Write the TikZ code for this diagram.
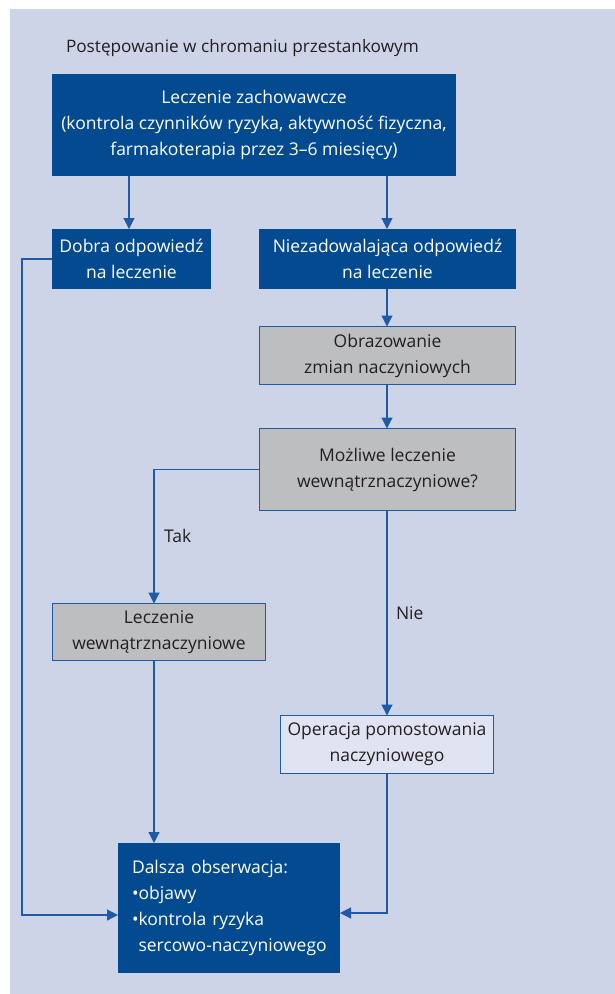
\documentclass[tikz,border=0pt]{standalone}
\usepackage{fontspec}
\setmainfont{Open Sans}
\usetikzlibrary{arrows.meta,positioning}
\definecolor{panel}{HTML}{CED4E8}
\definecolor{navy}{HTML}{034A91}
\definecolor{greybox}{HTML}{BDBEC0}
\definecolor{palebox}{HTML}{E0E3F1}
\definecolor{wire}{HTML}{1F5AA6}
\definecolor{ink}{HTML}{231F20}
\tikzset{
  every node/.style={inner sep=0pt, outer sep=0pt},
  boxfont/.style={font=\fontsize{17.5}{26}\selectfont},
  navybox/.style={rectangle, fill=navy, text=white, align=center, boxfont},
  greyb/.style={rectangle, fill=greybox, draw=wire, line width=1.2pt, text=ink,
    align=center, boxfont},
  paleb/.style={rectangle, fill=palebox, draw=wire, line width=1.2pt, text=ink,
    align=center, boxfont},
  flow/.style={draw=wire, line width=1.2pt, -{Triangle[length=11pt,width=11pt]}},
  lbl/.style={text=ink, font=\fontsize{17.5}{20}\selectfont},
}
\begin{document}
\begin{tikzpicture}[x=1pt,y=-1pt]
  \useasboundingbox (0,0) rectangle (615,994);
  \fill[panel] (10,9) rectangle (615,994);

  \node[text=ink, font=\fontsize{17.2}{20}\selectfont, anchor=base west] (title)
    at (66,52) {Postępowanie w chromaniu przestankowym};

  \node[navybox, minimum width=404pt, minimum height=102pt] (top) at (254,125)
    {Leczenie zachowawcze\\(kontrola czynników ryzyka, aktywność fizyczna,\\farmakoterapia przez 3–6 miesięcy)};
  \node[navybox, minimum width=159pt, minimum height=60pt] (good) at (131.5,259)
    {Dobra odpowiedź\\na leczenie};
  \node[navybox, minimum width=257pt, minimum height=60pt] (poor) at (387.5,259)
    {Niezadowalająca odpowiedź\\na leczenie};
  \node[greyb, minimum width=256pt, minimum height=58pt] (img) at (387.5,355.5)
    {Obrazowanie\\zmian naczyniowych};
  \node[greyb, minimum width=256pt, minimum height=82pt] (q) at (387.5,469.5)
    {Możliwe leczenie\\wewnątrznaczyniowe?};
  \node[greyb, minimum width=213pt, minimum height=57pt] (endo) at (159,632)
    {Leczenie\\wewnątrznaczyniowe};
  \node[paleb, minimum width=213pt, minimum height=58pt] (bypass) at (387,744.5)
    {Operacja pomostowania\\naczyniowego};
  \node[navybox, minimum width=222pt, minimum height=130pt, text width=194pt,
        align=left] (follow) at (229,908)
    {\mbox{Dalsza obserwacja:}\\
     \mbox{\textbullet objawy}\\
     \mbox{\textbullet kontrola ryzyka}\\
     \mbox{\hphantom{\textbullet}sercowo-naczyniowego}};

  % branch labels
  \node[lbl, anchor=west] (yes) at (164,536) {Tak};
  \node[lbl, anchor=west] (no) at (396,613) {Nie};

  % branch columns and bends
  \coordinate (xl) at (129,0);
  \coordinate (xr) at (387,0);
  \coordinate (xe) at (154,0);
  \coordinate (railL) at (22,259);
  \coordinate (railLb) at (22,915);
  \coordinate (railR) at (387,913);
  \coordinate (bendT) at (154,469.5);

  \draw[flow] (top.south -| xl) -- (good.north -| xl);
  \draw[flow] (top.south -| xr) -- (poor.north -| xr);
  \draw[flow] (poor.south -| xr) -- (img.north -| xr);
  \draw[flow] (img.south -| xr) -- (q.north -| xr);
  \draw[flow] (q.west) -- (bendT) -- (endo.north -| xe);
  \draw[flow] (q.south -| xr) -- (bypass.north -| xr);
  \draw[flow] (endo.south -| xe) -- (follow.north -| xe);
  \draw[flow] (good.west |- railL) -- (railL) -- (railLb) -- (follow.west |- railLb);
  \draw[flow] (bypass.south -| xr) -- (railR) -- (follow.east |- railR);
\end{tikzpicture}
\end{document}
